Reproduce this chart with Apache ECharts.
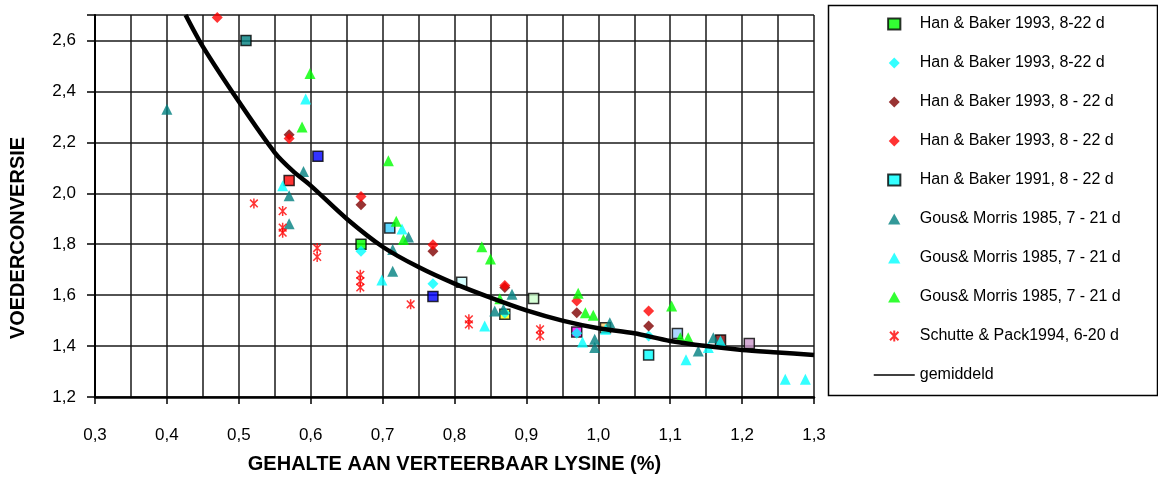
<!DOCTYPE html>
<html><head><meta charset="utf-8">
<script src="https://cdn.jsdelivr.net/npm/echarts@6/dist/echarts.min.js"></script>
<style>html,body{margin:0;padding:0;background:#fff}#c{width:1158px;height:479px}</style>
</head><body><div id="c"></div>
<script>
// ---- data ----
const legendLabels = [
  'Han & Baker 1993, 8-22 d',
  'Han & Baker 1993, 8-22 d',
  'Han & Baker 1993, 8 - 22 d',
  'Han & Baker 1993, 8 - 22 d',
  'Han & Baker 1991, 8 - 22 d',
  'Gous& Morris 1985, 7 - 21 d',
  'Gous& Morris 1985, 7 - 21 d',
  'Gous& Morris 1985, 7 - 21 d',
  'Schutte & Pack1994, 6-20 d',
  'gemiddeld'
];
const hb93Squares = [[0.57,2.05],[0.67,1.80],[0.77,1.595],[0.87,1.525],[0.97,1.455],[1.07,1.365],[1.17,1.424]];
const hb93SquareColors = ['#ff0000','#00ff00','#0000ff','#ffff00','#ff00ff','#00ffff','#800000'];
const hb93Cyan = [[0.67,1.772],[0.77,1.645],[0.87,1.53],[0.97,1.45],[1.07,1.44]];
const hb93DarkRed = [[0.57,2.23],[0.67,1.955],[0.77,1.772],[0.87,1.63],[0.97,1.531],[1.07,1.479]];
const hb93Red = [[0.47,2.69],[0.57,2.215],[0.67,1.987],[0.77,1.798],[0.87,1.638],[0.97,1.577],[1.07,1.538]];
const hb91Squares = [[0.51,2.60],[0.61,2.145],[0.71,1.864],[0.81,1.651],[0.91,1.587],[1.01,1.472],[1.11,1.449],[1.21,1.41]];
const hb91SquareColors = ['#008080','#0000ff','#33ccff','#ccffff','#ccffcc','#ffcc66','#99ccff','#cc99cc'];
const gmTeal = [[0.40,2.33],[0.59,2.085],[0.57,1.99],[0.57,1.88],[0.714,1.779],[0.714,1.694],[0.736,1.828],
  [0.856,1.538],[0.868,1.545],[0.88,1.603],[0.995,1.427],[0.995,1.394],[1.016,1.492],[1.139,1.381],[1.16,1.433]];
const gmCyan = [[0.593,2.37],[0.561,2.03],[0.699,1.659],[0.727,1.86],[0.842,1.479],[0.978,1.416],[1.01,1.466],
  [1.122,1.346],[1.153,1.394],[1.17,1.42],[1.26,1.27],[1.288,1.27]];
const gmGreen = [[0.599,2.47],[0.588,2.26],[0.708,2.128],[0.719,1.89],[0.729,1.818],[0.838,1.79],[0.85,1.742],
  [0.863,1.586],[0.972,1.607],[0.982,1.531],[0.993,1.521],[1.102,1.557],[1.114,1.433],[1.125,1.433]];
const spRed = [[0.521,1.96],[0.561,1.93],[0.561,1.865],[0.561,1.845],[0.609,1.785],[0.609,1.75],[0.669,1.68],
  [0.669,1.655],[0.669,1.63],[0.739,1.564],[0.82,1.505],[0.82,1.485],[0.919,1.466],[0.919,1.44]];
const average = [[0.426,2.70],[0.45,2.576],[0.5,2.36],[0.55,2.16],[0.575,2.088],[0.6,2.03],[0.65,1.90],[0.7,1.79],
  [0.75,1.71],[0.8,1.645],[0.85,1.59],[0.9,1.54],[0.95,1.50],[1.0,1.47],[1.05,1.45],[1.1,1.42],[1.15,1.40],
  [1.2,1.385],[1.25,1.375],[1.3,1.365]];
const xAxisTitle = 'GEHALTE AAN VERTEERBAAR LYSINE (%)';
const yAxisTitle = 'VOEDERCONVERSIE';

// ---- chart ----
const FONT = 'Liberation Sans, Arial, sans-serif';
const asterisk = 'path://M0,0L10,10M10,0L0,10M5,-1.5L5,11.5';
const squarePath = 'path://M0,0L10,0L10,9L0,9Z';
const diamondPath = 'path://M5,0L10,5L5,10L0,5Z';
const trianglePath = 'path://M5,0L10,9L0,9Z';
function colored(points, colors) {
  return points.map((p, i) => ({value: p, itemStyle: {color: colors[i]}}));
}
const comma = v => v.toFixed(1).replace('.', ',');

const series = [
  {type: 'scatter', name: 's0', data: colored(hb93Squares, hb93SquareColors), symbol: 'rect', symbolSize: 10, itemStyle: {color: '#00ff00', borderColor: '#000', borderWidth: 1.5}},
  {type: 'scatter', name: 's1', data: hb93Cyan, symbol: 'diamond', symbolSize: 11, itemStyle: {color: '#00ffff'}},
  {type: 'scatter', name: 's2', data: hb93DarkRed, symbol: 'diamond', symbolSize: 11, itemStyle: {color: '#800000'}},
  {type: 'scatter', name: 's3', data: hb93Red, symbol: 'diamond', symbolSize: 11, itemStyle: {color: '#ff0000'}},
  {type: 'scatter', name: 's4', data: colored(hb91Squares, hb91SquareColors), symbol: 'rect', symbolSize: 10, itemStyle: {color: '#00ffff', borderColor: '#000', borderWidth: 1.5}},
  {type: 'scatter', name: 's5', data: gmTeal, symbol: 'triangle', symbolSize: 11, itemStyle: {color: '#008080'}},
  {type: 'scatter', name: 's6', data: gmCyan, symbol: 'triangle', symbolSize: 11, itemStyle: {color: '#00ffff'}},
  {type: 'scatter', name: 's7', data: gmGreen, symbol: 'triangle', symbolSize: 11, itemStyle: {color: '#00ff00'}},
  {type: 'scatter', name: 's8', data: spRed, symbol: asterisk, symbolSize: 10, itemStyle: {color: 'rgba(0,0,0,0)', borderColor: '#ff0000', borderWidth: 1.5}},
  {type: 'line', name: 's9', data: average, smooth: 0.3, showSymbol: false, symbol: 'none', lineStyle: {color: '#000', width: 4.5}, itemStyle: {color: '#000'}}
];
series.forEach(s => { s.clip = false; s.silent = true; s.animation = false; s.symbolKeepAspect = true; });

const legendIcons = [squarePath, diamondPath, diamondPath, diamondPath, squarePath, trianglePath, trianglePath, trianglePath, asterisk];
const legendData = series.map((s, i) => i === 9
  ? {name: s.name, itemStyle: {color: 'rgba(0,0,0,0)', borderWidth: 0, opacity: 0}, lineStyle: {width: 1.5, color: '#000'}}
  : {name: s.name, icon: legendIcons[i]});

const chart = echarts.init(document.getElementById('c'), null, {renderer: 'canvas'});
chart.setOption({
  animation: false,
  backgroundColor: '#fff',
  grid: {left: 95, right: 344, top: 15, bottom: 81, containLabel: false},
  xAxis: {
    type: 'value', min: 0.3, max: 1.3, interval: 0.1,
    name: xAxisTitle, nameLocation: 'middle', nameGap: 57,
    nameTextStyle: {fontFamily: FONT, fontWeight: 'bold', fontSize: 20, color: '#000'},
    axisLine: {show: true, onZero: false, lineStyle: {color: '#000', width: 2.5}},
    axisTick: {show: true, length: 7, lineStyle: {color: '#000', width: 1.5}},
    axisLabel: {formatter: comma, margin: 30, fontFamily: FONT, fontSize: 17, color: '#000'},
    splitLine: {show: true, lineStyle: {color: '#1a1a1a', width: 1.5}},
    minorTick: {show: false, splitNumber: 2},
    minorSplitLine: {show: true, lineStyle: {color: '#1a1a1a', width: 1.5}}
  },
  yAxis: {
    type: 'value', min: 1.2, max: 2.7, interval: 0.2,
    axisLine: {show: true, onZero: false, lineStyle: {color: '#000', width: 2}},
    axisTick: {show: true, length: 8, lineStyle: {color: '#000', width: 1.5}},
    axisLabel: {formatter: v => v > 2.65 ? '' : comma(v), margin: 19, fontFamily: FONT, fontSize: 17, color: '#000'},
    splitLine: {show: true, lineStyle: {color: '#1a1a1a', width: 1.5}}
  },
  legend: {
    orient: 'vertical', left: 873, top: 16, padding: 0,
    itemWidth: 41, itemHeight: 11, itemGap: 23,
    data: legendData,
    formatter: name => legendLabels[+name.slice(1)],
    textStyle: {fontFamily: FONT, fontSize: 16, color: '#000', lineHeight: 16},
    selectedMode: false
  },
  graphic: [
    {type: 'rect', left: 826, top: 3, shape: {width: 329, height: 390}, style: {fill: 'none', stroke: '#000', lineWidth: 1.5}, z: -1},
    {type: 'text', x: 18, y: 238, rotation: Math.PI / 2,
     style: {text: yAxisTitle, fontFamily: FONT, fontWeight: 'bold', fontSize: 20, fill: '#000', align: 'center', verticalAlign: 'middle'}}
  ],
  series: series
});
</script></body></html>
